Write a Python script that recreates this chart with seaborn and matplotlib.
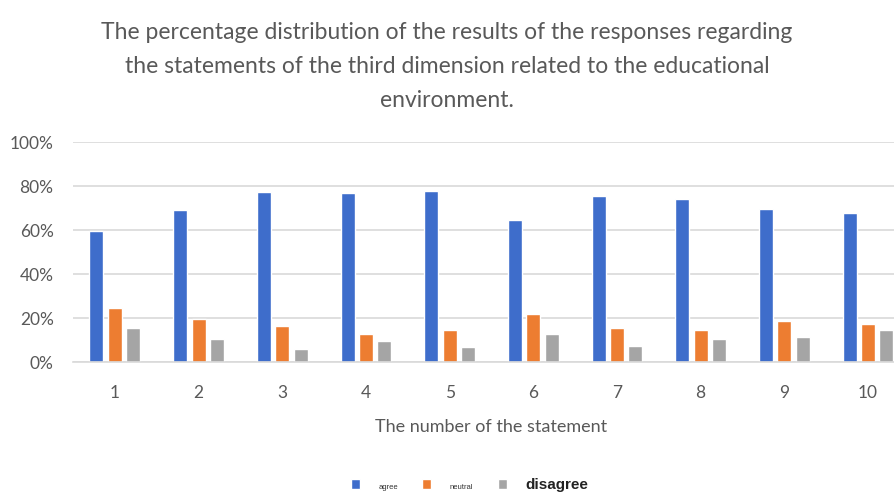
import matplotlib
matplotlib.use("Agg")
import matplotlib.pyplot as plt
from matplotlib.ticker import FuncFormatter
import seaborn as sns
import pandas as pd

statements = ["1", "2", "3", "4", "5", "6", "7", "8", "9", "10"]
agree = [59.5, 69.2, 77.3, 76.8, 77.9, 64.7, 75.7, 74.2, 69.8, 67.7]
neutral = [24.5, 19.8, 16.6, 12.9, 14.5, 22.0, 15.5, 14.5, 18.8, 17.3]
disagree = [15.5, 10.5, 5.9, 9.7, 7.0, 13.0, 7.4, 10.5, 11.4, 14.5]
responses = ["agree", "neutral", "disagree"]
colors = ["#3E6DCB", "#ED7D31", "#A5A5A5"]

df = pd.DataFrame({
    "statement": statements * 3,
    "response": [r for r in responses for _ in statements],
    "value": agree + neutral + disagree,
})

sns.set_theme(style="white")
plt.rcParams["font.family"] = ["Lato", "DejaVu Sans"]

fig = plt.figure(figsize=(8.94, 4.95), dpi=100)
ax = fig.add_axes([0.0817, 0.268, 0.936, 0.4445])

sns.barplot(data=df, x="statement", y="value", hue="response",
            order=statements, hue_order=responses, palette=colors,
            width=0.66, gap=0.24, saturation=1, errorbar=None, ax=ax)

ax.set_ylim(0, 100)
ax.set_xlim(-0.5, 9.5)
ax.set_yticks([0, 20, 40, 60, 80, 100])
ax.yaxis.set_major_formatter(FuncFormatter(lambda v, _: f"{v:.0f}%"))
ax.grid(axis="y", color="#D9D9D9", linewidth=1.2)
ax.set_axisbelow(True)
for s in ["top", "right", "left"]:
    ax.spines[s].set_visible(False)
ax.spines["bottom"].set_color("#D9D9D9")
ax.spines["bottom"].set_linewidth(1.2)
ax.tick_params(axis="both", length=0, labelsize=12.5, labelcolor="#595959")
ax.tick_params(axis="x", pad=16)
ax.tick_params(axis="y", pad=14)
ax.set_ylabel("")
ax.set_xlabel("The number of the statement", fontsize=13, color="#595959",
              labelpad=13)

fig.text(0.5, 0.955,
         "The percentage distribution of the results of the responses regarding\n"
         "the statements of the third dimension related to the educational\n"
         "environment.",
         ha="center", va="top", fontsize=16.5, color="#595959", linespacing=1.75)

handles, labels = ax.get_legend_handles_labels()
if ax.legend_:
    ax.legend_.remove()
leg = fig.legend(handles, labels, loc="lower center", bbox_to_anchor=(0.525, -0.022),
                 ncol=3, frameon=False, handlelength=0.6, handleheight=0.6,
                 columnspacing=1.6, handletextpad=1.2)
sizes = [5.5, 5.5, 11]
for t, sz in zip(leg.get_texts(), sizes):
    t.set_fontsize(sz)
    t.set_family(["Liberation Sans", "DejaVu Sans"])
    if sz > 6:
        t.set_fontweight("bold")
        t.set_color("#222222")
    else:
        t.set_color("#333333")

fig.savefig("out.png", dpi=100)
